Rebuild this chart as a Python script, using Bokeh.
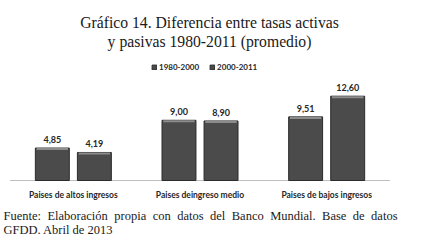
from bokeh.plotting import figure
from bokeh.models import ColumnDataSource, Range1d, FactorRange, Legend, LegendItem, Label
from bokeh.transform import dodge
from bokeh.core.properties import value
from bokeh.embed import file_html
from bokeh.resources import INLINE

categories = ["Paises de altos ingresos", "Paises deingreso medio", "Paises de bajos ingresos"]
series_names = ["1980-2000", "2000-2011"]
v1980_2000 = [4.85, 9.00, 9.51]
v2000_2011 = [4.19, 8.90, 12.60]
title_line1 = "Gráfico 14. Diferencia entre tasas activas"
title_line2 = "y pasivas 1980-2011 (promedio)"
footer_1 = "Fuente: Elaboración propia con datos del Banco Mundial. Base de datos"
footer_2 = "GFDD. Abril de 2013"

W, H = 421, 248

def fmt(v):
    return f"{v:.2f}".replace(".", ",")

src = ColumnDataSource(dict(
    cat=categories,
    a=v1980_2000,
    b=v2000_2011,
    a_lab=[fmt(v) for v in v1980_2000],
    b_lab=[fmt(v) for v in v2000_2011],
    a_bev=[v - 0.3 for v in v1980_2000],
    b_bev=[v - 0.3 for v in v2000_2011],
    zero=[0] * len(categories),
))

x_range = FactorRange(*categories, range_padding=0.162, range_padding_units="absolute")
p = figure(x_range=x_range, y_range=Range1d(-10.16, 26.9), width=W, height=H,
           min_border=0, min_border_left=0, min_border_right=0, min_border_top=0, min_border_bottom=0,
           x_axis_location=None, y_axis_location=None,
           output_backend="svg", toolbar_location=None)
p.outline_line_color = None
p.xgrid.visible = False
p.ygrid.visible = False

shift = -0.0868          # groups sit slightly left of the page centre
off = 0.166
w = 0.268

# baseline (category axis line) spanning the category bands
ends = ColumnDataSource(dict(c0=[categories[0]], c1=[categories[-1]], y=[0]))
p.segment(x0=dodge("c0", -0.5 + shift, range=p.x_range), x1=dodge("c1", 0.5 + shift, range=p.x_range),
          y0="y", y1="y", source=ends, line_color="#bfbfbf", line_width=1)

ra = p.vbar(x=dodge("cat", -off + shift, range=p.x_range), top="a", width=w, source=src,
            fill_color="#4b4b4b", line_color="#2b2b2b", line_width=1)
rb = p.vbar(x=dodge("cat", off + shift, range=p.x_range), top="b", width=w, source=src,
            fill_color="#4b4b4b", line_color="#2b2b2b", line_width=1)
p.vbar(x=dodge("cat", -off + shift, range=p.x_range), top="a", bottom="a_bev", width=w - 0.02,
       source=src, fill_color="#8c8c8c", line_color=None)
p.vbar(x=dodge("cat", off + shift, range=p.x_range), top="b", bottom="b_bev", width=w - 0.02,
       source=src, fill_color="#8c8c8c", line_color=None)

for col, lab, o in (("a", "a_lab", -off), ("b", "b_lab", off)):
    p.text(x=dodge("cat", o + shift, range=p.x_range), y=col, text=lab, source=src,
           text_align="center", text_baseline="bottom", y_offset=-5,
           text_font=value("Lato"), text_font_style="bold", text_font_size="9px",
           text_color="#262626")

# category labels
p.text(x=dodge("cat", shift, range=p.x_range), y="zero", text="cat", source=src,
       text_align="center", text_baseline="middle", y_offset=14,
       text_font=value("Lato"), text_font_style="bold", text_font_size="8.5px",
       text_color="#262626")

legend = Legend(items=[LegendItem(label=series_names[0], renderers=[ra]),
                       LegendItem(label=series_names[1], renderers=[rb])],
                orientation="horizontal", location=(151, 176),
                glyph_width=6, glyph_height=6, label_text_font="Lato",
                label_text_font_style="bold", label_text_font_size="8px",
                label_text_color="#262626", label_standoff=2, spacing=10,
                padding=0, margin=0, border_line_color=None, background_fill_alpha=0)
p.add_layout(legend)

def lab(x, y_top, text, size, align="left"):
    # y_top: pixel row of the baseline measured from the top of the page
    p.add_layout(Label(x=x, y=H - y_top, x_units="screen", y_units="screen", text=text,
                       text_font="Liberation Serif", text_font_size=size,
                       text_align=align, text_baseline="alphabetic", text_color="#1a1a1a"))

# title
lab(209, 22.3, title_line1, "15.7px", align="center")
lab(209, 41, title_line2, "15.7px", align="center")

# footer: first line justified between the page margins (Times metrics, 1/1000 em)
TIMES = {"F": 556, "E": 611, "B": 667, "M": 889, "u": 500, "e": 444, "n": 500, "t": 278,
         "l": 278, "a": 444, "b": 500, "o": 500, "r": 333, "c": 444, "i": 278, "ó": 500,
         "p": 500, "d": 500, "s": 389, ":": 278, ".": 250}
FS = 12.5
left, right = 3.0, 397.0
words = footer_1.split(" ")
widths = [sum(TIMES.get(ch, 500) for ch in wd) * FS / 1000 for wd in words]
gap = (right - left - sum(widths)) / (len(words) - 1)
x = left
for wd, wdt in zip(words, widths):
    lab(x, 215.7, wd, f"{FS}px")
    x += wdt + gap
lab(left, 229.3, footer_2, f"{FS}px")

open("out.html", "w").write(file_html(p, INLINE))
